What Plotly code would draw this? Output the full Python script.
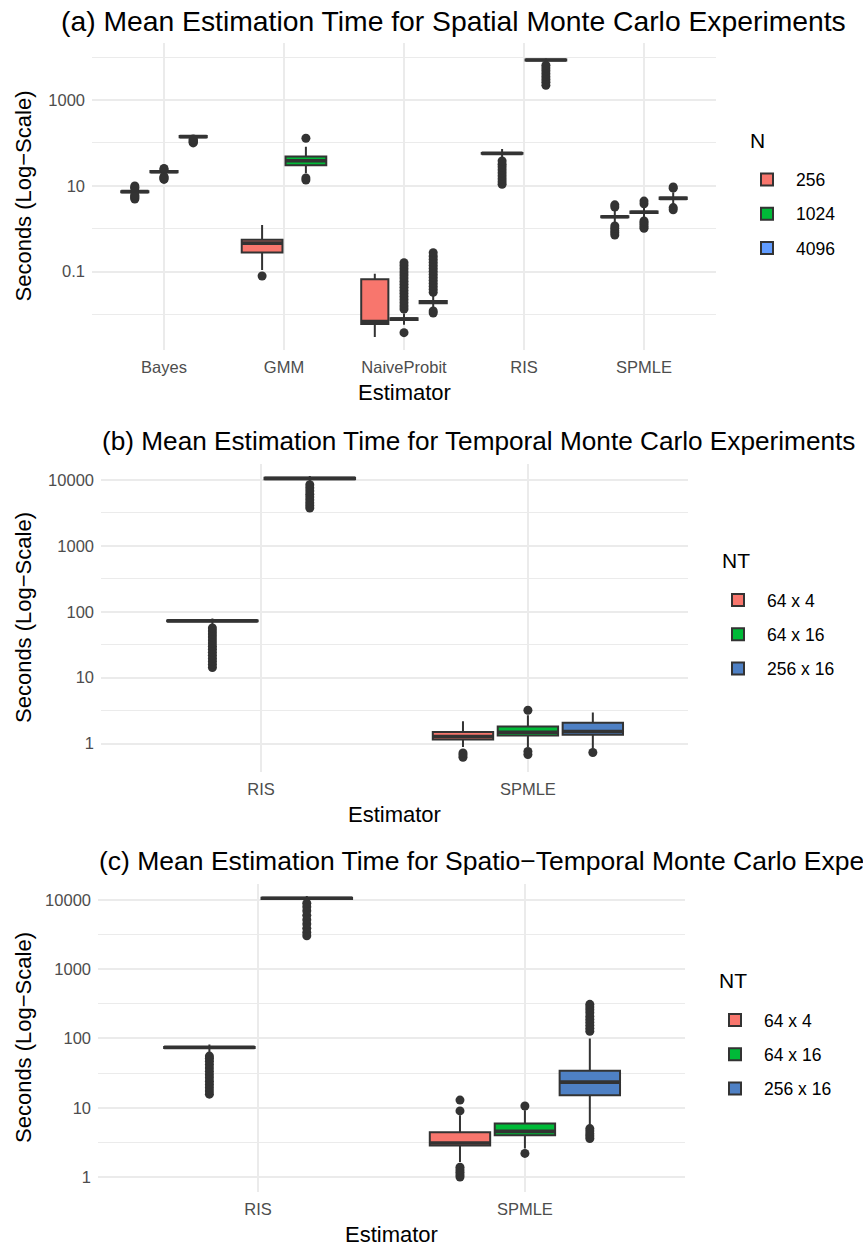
import plotly.graph_objects as go

# ---------------- data: panel (a) spatial ----------------
A_CATEGORIES = ["Bayes", "GMM", "NaiveProbit", "RIS", "SPMLE"]
A_LEVELS = ["256", "1024", "4096"]
A_EST = ["Bayes", "Bayes", "Bayes", "GMM", "GMM", "NaiveProbit", "NaiveProbit",
         "NaiveProbit", "RIS", "RIS", "SPMLE", "SPMLE", "SPMLE"]
A_N = ["256", "1024", "4096", "256", "1024", "256", "1024", "4096", "256", "1024",
       "256", "1024", "4096"]
A_LO = [6.3, 17.0, 127, 0.109, 19.5, 0.003, 0.0058, 0.015, 42, 7000, 1.4, 1.7, 3.7]
A_Q1 = [7.1, 20.6, 136, 0.28, 30, 0.0060, 0.0074, 0.0183, 56, 8300, 1.84, 2.32, 4.9]
A_MED = [7.3, 21.3, 140, 0.46, 38.5, 0.0068, 0.0078, 0.0195, 57, 8550, 1.9, 2.41, 5.1]
A_Q3 = [7.5, 22.0, 144, 0.55, 48, 0.066, 0.0082, 0.0207, 58, 8800, 1.96, 2.5, 5.3]
A_HI = [8.4, 23.5, 150, 1.22, 81, 0.089, 0.0105, 0.030, 72, 9350, 2.6, 3.3, 7.0]
A_OUT = [
    [4.9, 5.2, 5.5, 5.8, 6.1, 8.7, 9.2, 9.9],
    [14.1, 14.8, 15.6, 16.4, 24.2, 25.3],
    [100, 104, 108, 113, 118, 123],
    [0.079],
    [13.6, 15.2, 128],
    [],
    [0.00377, 0.0134, 0.0158, 0.0187, 0.0221, 0.0261, 0.0308, 0.0363, 0.0429,
     0.0506, 0.0597, 0.0705, 0.0832, 0.0982, 0.116, 0.137, 0.161],
    [0.0108, 0.0121, 0.0329, 0.0389, 0.0457, 0.0537, 0.0631, 0.0741, 0.0871,
     0.102, 0.120, 0.141, 0.166, 0.195, 0.229, 0.276],
    [10.8, 12.5, 14.5, 17, 20, 23.5, 27.5, 32, 37.8],
    [2200, 2600, 3000, 3500, 4100, 4800, 5600, 6500],
    [0.71, 0.8, 0.9, 1.02, 1.16, 3.2, 3.6],
    [1.02, 1.12, 1.25, 1.38, 1.51, 3.8, 4.4],
    [2.77, 3.1, 8.8, 9.4],
]
A_YTICKS = [0.1, 10, 1000]
A_YTICKTEXT = ["0.1", "10", "1000"]
A_YMINOR = [0.01, 1, 100, 10000]

# ---------------- data: panel (b) temporal ----------------
BC_CATEGORIES = ["RIS", "SPMLE"]
BC_LEVELS = ["64 x 4", "64 x 16", "256 x 16"]
B_EST = ["RIS", "RIS", "SPMLE", "SPMLE", "SPMLE"]
B_NT = ["64 x 4", "64 x 16", "64 x 4", "64 x 16", "256 x 16"]
B_LO = [60, 9500, 0.885, 0.885, 0.84]
B_Q1 = [71.5, 10300, 1.15, 1.33, 1.36]
B_MED = [72.8, 10600, 1.28, 1.48, 1.52]
B_Q3 = [74, 10800, 1.50, 1.82, 2.07]
B_HI = [79, 11500, 2.17, 2.68, 2.95]
B_OUT = [
    [14.2, 15.8, 17.6, 19.6, 21.8, 24.2, 27, 30, 33.5, 37.2, 41.5, 46, 51, 56.9],
    [3750, 4100, 4500, 5000, 5500, 6100, 6800, 7600, 8500],
    [0.62, 0.67, 0.72],
    [0.68, 0.76, 3.2],
    [0.73],
]

# ---------------- data: panel (c) spatio-temporal ----------------
C_EST = ["RIS", "RIS", "SPMLE", "SPMLE", "SPMLE"]
C_NT = ["64 x 4", "64 x 16", "64 x 4", "64 x 16", "256 x 16"]
C_LO = [62, 9500, 1.65, 2.58, 5.7]
C_Q1 = [73, 10300, 2.85, 4.0, 15.2]
C_MED = [74.3, 10600, 3.1, 4.55, 23.4]
C_Q3 = [75.5, 10800, 4.43, 5.93, 34.1]
C_HI = [82, 11400, 7.8, 9.2, 100]
C_OUT = [
    [15.7, 17.5, 19.5, 21.7, 24.2, 27, 30, 33.5, 37.5, 42, 47, 52, 55.7],
    [3050, 3400, 3900, 4500, 5200, 6000, 7000, 8000, 9000],
    [1.0, 1.08, 1.17, 1.27, 1.38, 9.0, 12.9],
    [2.19, 10.6],
    [3.6, 3.9, 4.2, 4.6, 5.0, 127, 140, 155, 172, 190, 210, 235, 260, 285, 311],
]
BC_YTICKS = [1, 10, 100, 1000, 10000]
BC_YTICKTEXT = ["1", "10", "100", "1000", "10000"]
BC_YMINOR = [3.162, 31.62, 316.2, 3162, 31623]

TITLES = ["(a) Mean Estimation Time for Spatial Monte Carlo Experiments",
          "(b) Mean Estimation Time for Temporal Monte Carlo Experiments",
          "(c) Mean Estimation Time for Spatio\u2212Temporal Monte Carlo Experiments"]
XTITLE = "Estimator"
YTITLE = "Seconds (Log\u2212Scale)"
A_LEGEND_TITLE = "N"
BC_LEGEND_TITLE = "NT"

# ---------------- styling ----------------
W, H = 863, 1247
FONT = "Liberation Sans"
LINE = "#333333"
GRID = "#EBEBEB"
A_COLORS = ["#F8766D", "#00BA38", "#619CFF"]
BC_COLORS = ["#F8766D", "#00BA38", "#4E80C4"]
GROUP_W = 0.73
BOX_FRAC = 0.93


def fx(px):
    return px / W


def fy(px):
    return 1 - px / H


fig = go.Figure()


def add_panel(k, cats, levels, colors, est, lev, lo, q1, med, q3, hi, outs, legend_name):
    xa = "x" if k == 1 else f"x{k}"
    ya = "y" if k == 1 else f"y{k}"
    shown = set()
    for i in range(len(est)):
        e, l = est[i], lev[i]
        ci = cats.index(e)
        present = [lv for lv in levels if any(est[m] == e and lev[m] == lv for m in range(len(est)))]
        kk = len(present)
        j = present.index(l)
        slot = GROUP_W / kk
        pos = ci + (j - (kk - 1) / 2) * slot
        li = levels.index(l)
        fig.add_trace(go.Box(
            x=[pos], q1=[q1[i]], median=[med[i]], q3=[q3[i]],
            lowerfence=[lo[i]], upperfence=[hi[i]],
            orientation="v", width=slot * BOX_FRAC,
            fillcolor=colors[li], line=dict(color=LINE, width=2),
            whiskerwidth=0, boxpoints=False,
            name=l, legendgroup=f"{legend_name}-{l}", legendrank=li + 1,
            showlegend=l not in shown, legend=legend_name,
            xaxis=xa, yaxis=ya, hoverinfo="skip",
        ))
        # thicker median bar (ggplot's fattened median line)
        fig.add_trace(go.Box(
            x=[pos], q1=[med[i]], median=[med[i]], q3=[med[i]],
            lowerfence=[med[i]], upperfence=[med[i]],
            orientation="v", width=slot * BOX_FRAC,
            fillcolor=LINE, line=dict(color=LINE, width=3.6),
            whiskerwidth=0, boxpoints=False, showlegend=False,
            xaxis=xa, yaxis=ya, hoverinfo="skip",
        ))
        shown.add(l)
        if outs[i]:
            fig.add_trace(go.Scatter(
                x=[pos] * len(outs[i]), y=outs[i], mode="markers",
                marker=dict(color=LINE, size=9, line=dict(width=0)),
                showlegend=False, xaxis=xa, yaxis=ya, hoverinfo="skip",
            ))


add_panel(1, A_CATEGORIES, A_LEVELS, A_COLORS, A_EST, A_N, A_LO, A_Q1, A_MED, A_Q3, A_HI, A_OUT, "legend")
add_panel(2, BC_CATEGORIES, BC_LEVELS, BC_COLORS, B_EST, B_NT, B_LO, B_Q1, B_MED, B_Q3, B_HI, B_OUT, "legend2")
add_panel(3, BC_CATEGORIES, BC_LEVELS, BC_COLORS, C_EST, C_NT, C_LO, C_Q1, C_MED, C_Q3, C_HI, C_OUT, "legend3")

# panel geometry in pixels: (left, right, top, bottom)
PANELS = [(92, 716, 43, 350), (101, 688, 464, 772), (98, 685, 884, 1192)]
YRANGES = [[-2.828, 4.329], [-0.432, 4.243], [-0.217, 4.231]]
CATS = [A_CATEGORIES, BC_CATEGORIES, BC_CATEGORIES]
YT = [(A_YTICKS, A_YTICKTEXT, A_YMINOR), (BC_YTICKS, BC_YTICKTEXT, BC_YMINOR),
      (BC_YTICKS, BC_YTICKTEXT, BC_YMINOR)]
TITLE_POS = [(59, 21, 28.3), (100, 441, 26.2), (97, 861, 26.5)]
# legend: (items x, first item centre y, title x, title centre y, title)
LEGEND_POS = [(738, 178.5, 750, 140, A_LEGEND_TITLE),
              (709, 599, 722, 560, BC_LEGEND_TITLE),
              (706, 1019, 719, 980, BC_LEGEND_TITLE)]

layout = dict(
    width=W, height=H, autosize=False,
    margin=dict(l=0, r=0, t=0, b=0),
    paper_bgcolor="white", plot_bgcolor="white",
    font=dict(family=FONT, color="black"),
    showlegend=True, boxmode="overlay",
)
annotations = []
for p in range(3):
    L, R, T, B = PANELS[p]
    sfx = "" if p == 0 else str(p + 1)
    cats = CATS[p]
    yt, ytt, ymin = YT[p]
    layout["xaxis" + sfx] = dict(
        domain=[fx(L), fx(R)], anchor="y" + sfx, range=[-0.6, len(cats) - 0.4],
        tickmode="array", tickvals=list(range(len(cats))), ticktext=cats,
        showgrid=True, gridcolor=GRID, gridwidth=1.8, zeroline=False,
        showline=False, ticks="", ticklabelstandoff=5,
        tickfont=dict(size=16.5, color="#4D4D4D"), fixedrange=True,
    )
    layout["yaxis" + sfx] = dict(
        domain=[fy(B), fy(T)], anchor="x" + sfx, type="log", range=YRANGES[p],
        tickmode="array", tickvals=yt, ticktext=ytt,
        showgrid=True, gridcolor=GRID, gridwidth=1.8, zeroline=False,
        showline=False, ticks="", ticklabelstandoff=6,
        tickfont=dict(size=16.5, color="#4D4D4D"),
        minor=dict(tickmode="array", tickvals=ymin, showgrid=True, gridcolor=GRID,
                   gridwidth=1, ticks=""),
        fixedrange=True,
    )
    tx, ty, ts = TITLE_POS[p]
    annotations.append(dict(text=TITLES[p], xref="paper", yref="paper", x=fx(tx), y=fy(ty),
                            xanchor="left", yanchor="middle", showarrow=False,
                            font=dict(size=ts, color="black")))
    annotations.append(dict(text=XTITLE, xref="paper", yref="paper", x=fx((L + R) / 2), y=fy(B + 42),
                            xanchor="center", yanchor="middle", showarrow=False,
                            font=dict(size=22, color="black")))
    annotations.append(dict(text=YTITLE, xref="paper", yref="paper", x=fx(23), y=fy((T + B) / 2),
                            xanchor="center", yanchor="middle", textangle=-90, showarrow=False,
                            font=dict(size=22, color="black")))
    lx, ly, ltx, lty, lt = LEGEND_POS[p]
    annotations.append(dict(text=lt, xref="paper", yref="paper", x=fx(ltx - 2), y=fy(lty),
                            xanchor="left", yanchor="middle", showarrow=False,
                            font=dict(size=21, color="black")))
    layout["legend" + sfx] = dict(
        x=fx(lx), y=fy(ly - 17), xanchor="left", yanchor="top",
        font=dict(size=17.5, color="black"), tracegroupgap=8.5, itemwidth=48,
        bgcolor="rgba(0,0,0,0)", borderwidth=0,
    )
layout["annotations"] = annotations
fig.update_layout(**layout)

fig.write_html("out.html")
